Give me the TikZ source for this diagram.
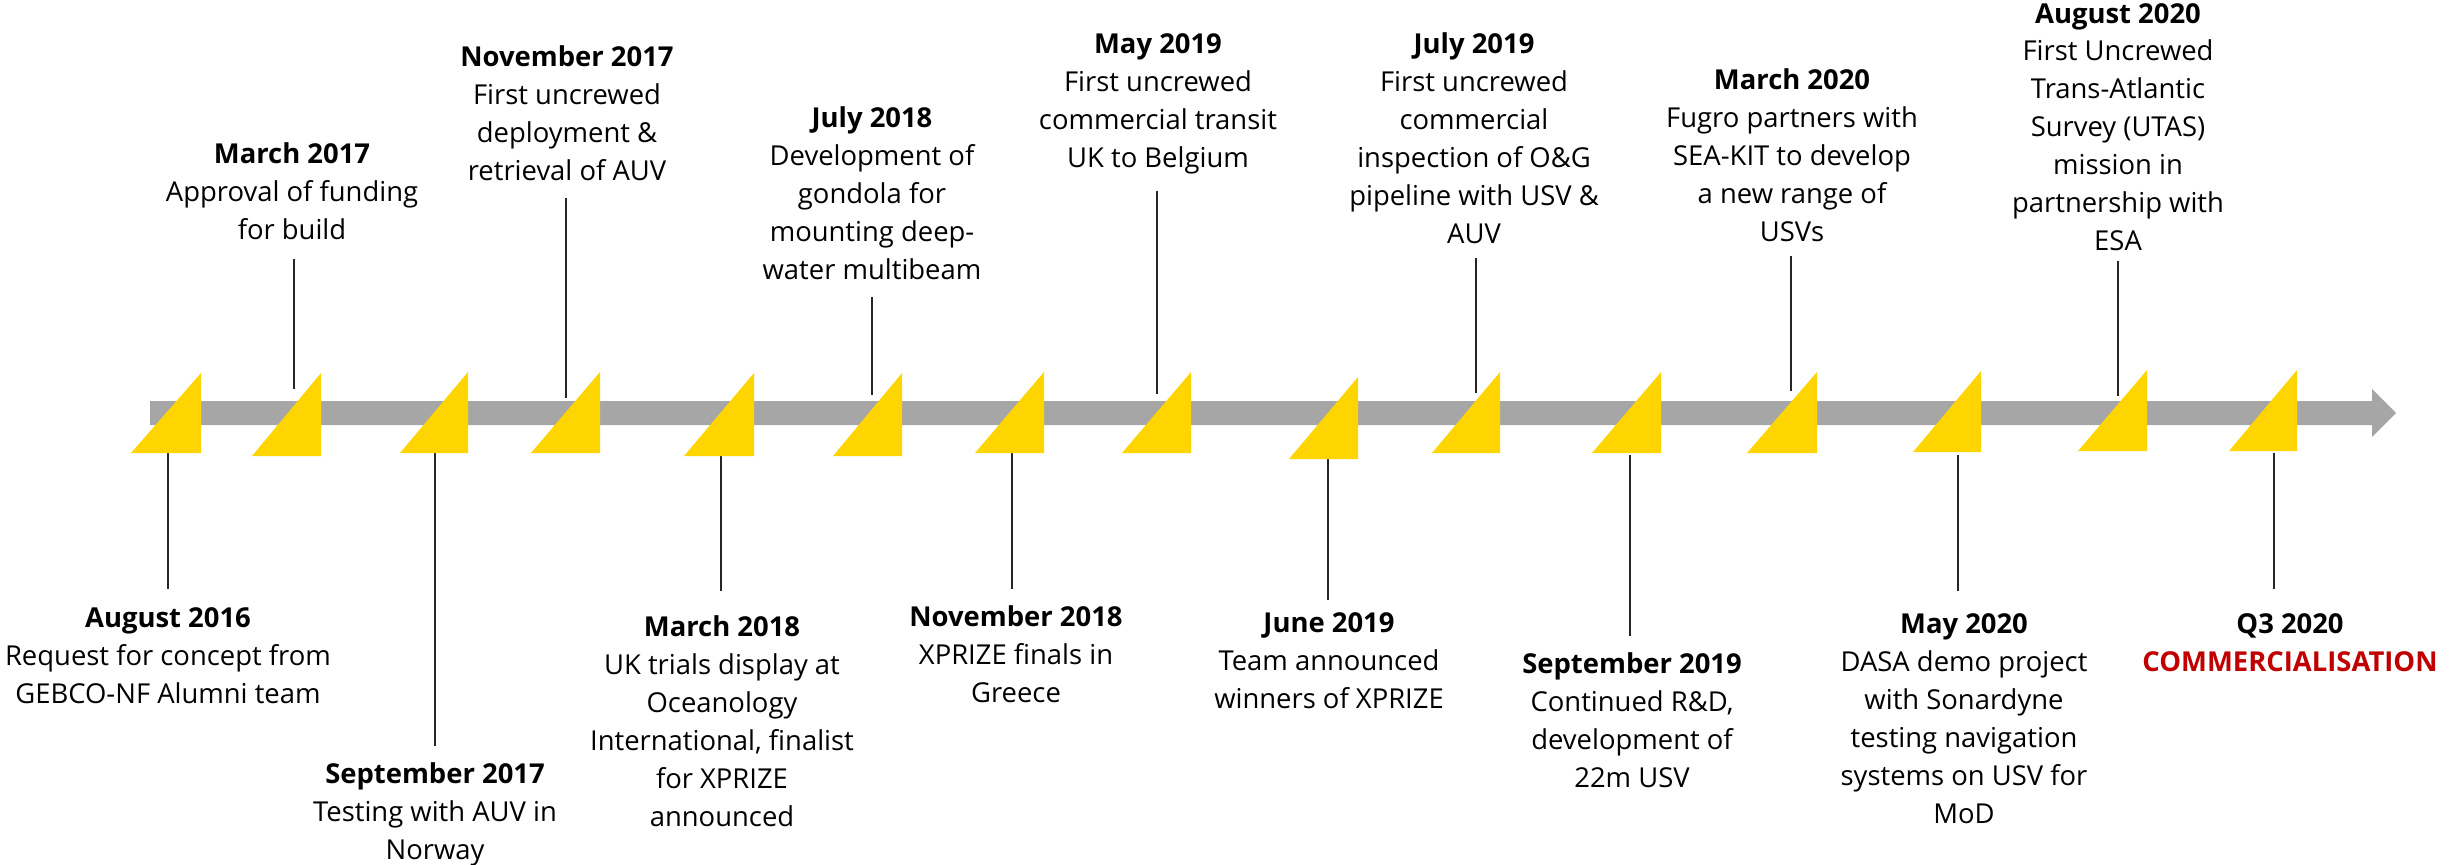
\documentclass[tikz,border=0pt]{standalone}
\usepackage{fontspec}
\setmainfont{Open Sans}
\definecolor{triyellow}{HTML}{FFD500}
\definecolor{bargray}{HTML}{A6A6A6}
\definecolor{commred}{HTML}{C00000}
\definecolor{linegray}{HTML}{262626}
\newcommand\mytri[4]{\fill[tri] (#1,#4) -- (#2,#4) -- (#2,#3) -- cycle;}
\tikzset{
  tri/.style={fill=triyellow},
  evt/.style={align=center, anchor=base, inner sep=0pt, font=\fontsize{19.5}{26.9}\selectfont},
  tick/.style={draw=linegray, line width=1.1pt},
}
\begin{document}
\begin{tikzpicture}[x=0.025cm,y=-0.025cm]
\useasboundingbox (0,0) rectangle (2458,864);
% connector end points
\coordinate (a1) at (168,453);  \coordinate (b1) at (168,589);
\coordinate (a2) at (294,259);  \coordinate (b2) at (294,389);
\coordinate (a3) at (435,453);  \coordinate (b3) at (435,746);
\coordinate (a4) at (566,198);  \coordinate (b4) at (566,398);
\coordinate (a5) at (721,456);  \coordinate (b5) at (721,591);
\coordinate (a6) at (872,297);  \coordinate (b6) at (872,395);
\coordinate (a7) at (1012,453); \coordinate (b7) at (1012,589);
\coordinate (a8) at (1157,191); \coordinate (b8) at (1157,394);
\coordinate (a9) at (1328,459); \coordinate (b9) at (1328,600);
\coordinate (a10) at (1476,258); \coordinate (b10) at (1476,393);
\coordinate (a11) at (1630,455); \coordinate (b11) at (1630,636);
\coordinate (a12) at (1791,256); \coordinate (b12) at (1791,391);
\coordinate (a13) at (1958,455); \coordinate (b13) at (1958,591);
\coordinate (a14) at (2118,261); \coordinate (b14) at (2118,396);
\coordinate (a15) at (2274,453); \coordinate (b15) at (2274,589);
\foreach \i in {1,...,15} {\draw[tick] (a\i) -- (b\i);}
% timeline arrow
\fill[bargray] (150,401) -- (2372,401) -- (2372,389) -- (2396,413) -- (2372,437) -- (2372,425) -- (150,425) -- cycle;
% triangles
\mytri{131}{201}{373}{453}
\mytri{252}{321}{373}{456}
\mytri{400}{468}{372}{453}
\mytri{531}{600}{372}{453}
\mytri{684}{754}{373}{456}
\mytri{833}{902}{373}{456}
\mytri{975}{1044}{372}{453}
\mytri{1122}{1191}{372}{453}
\mytri{1289}{1358}{377}{459}
\mytri{1432}{1500}{372}{453}
\mytri{1592}{1661}{372}{453}
\mytri{1747}{1817}{372}{453}
\mytri{1913}{1981}{371}{452}
\mytri{2078}{2147}{370}{451}
\mytri{2229}{2297}{370}{451}
% texts above (anchor = baseline of last line)
\node[evt] (t2) at (292,239) {\textbf{March 2017}\\Approval of funding\\for build};
\node[evt] (t4) at (567,180) {\textbf{November 2017}\\First uncrewed\\deployment \&\\retrieval of AUV};
\node[evt] (t6) at (872,279) {\textbf{July 2018}\\Development of\\gondola for\\mounting deep-\\water multibeam};
\node[evt] (t8) at (1158,167) {\textbf{May 2019}\\First uncrewed\\commercial transit\\UK to Belgium};
\node[evt] (t10) at (1474,243) {\textbf{July 2019}\\First uncrewed\\commercial\\inspection of O\&G\\pipeline with USV \&\\AUV};
\node[evt] (t12) at (1792,241) {\textbf{March 2020}\\Fugro partners with\\SEA-KIT to develop\\a new range of\\USVs};
\node[evt] (t14) at (2118,250) {\textbf{August 2020}\\First Uncrewed\\Trans-Atlantic\\Survey (UTAS)\\mission in\\partnership with\\ESA};
% texts below
\node[evt] (t1) at (168,703) {\textbf{August 2016}\\Request for concept from\\GEBCO-NF Alumni team};
\node[evt] (t3) at (435,859) {\textbf{September 2017}\\Testing with AUV in\\Norway};
\node[evt] (t5) at (722,826) {\textbf{March 2018}\\UK trials display at\\Oceanology\\International, finalist\\for XPRIZE\\announced};
\node[evt] (t7) at (1016,702) {\textbf{November 2018}\\XPRIZE finals in\\Greece};
\node[evt] (t9) at (1329,708) {\textbf{June 2019}\\Team announced\\winners of XPRIZE};
\node[evt] (t11) at (1632,787) {\textbf{September 2019}\\Continued R\&D,\\development of\\22m USV};
\node[evt] (t13) at (1964,823) {\textbf{May 2020}\\DASA demo project\\with Sonardyne\\testing navigation\\systems on USV for\\MoD};
\node[evt] (t15) at (2290,671) {\textbf{Q3 2020}\\\textcolor{commred}{\textbf{COMMERCIALISATION}}};
\end{tikzpicture}
\end{document}
